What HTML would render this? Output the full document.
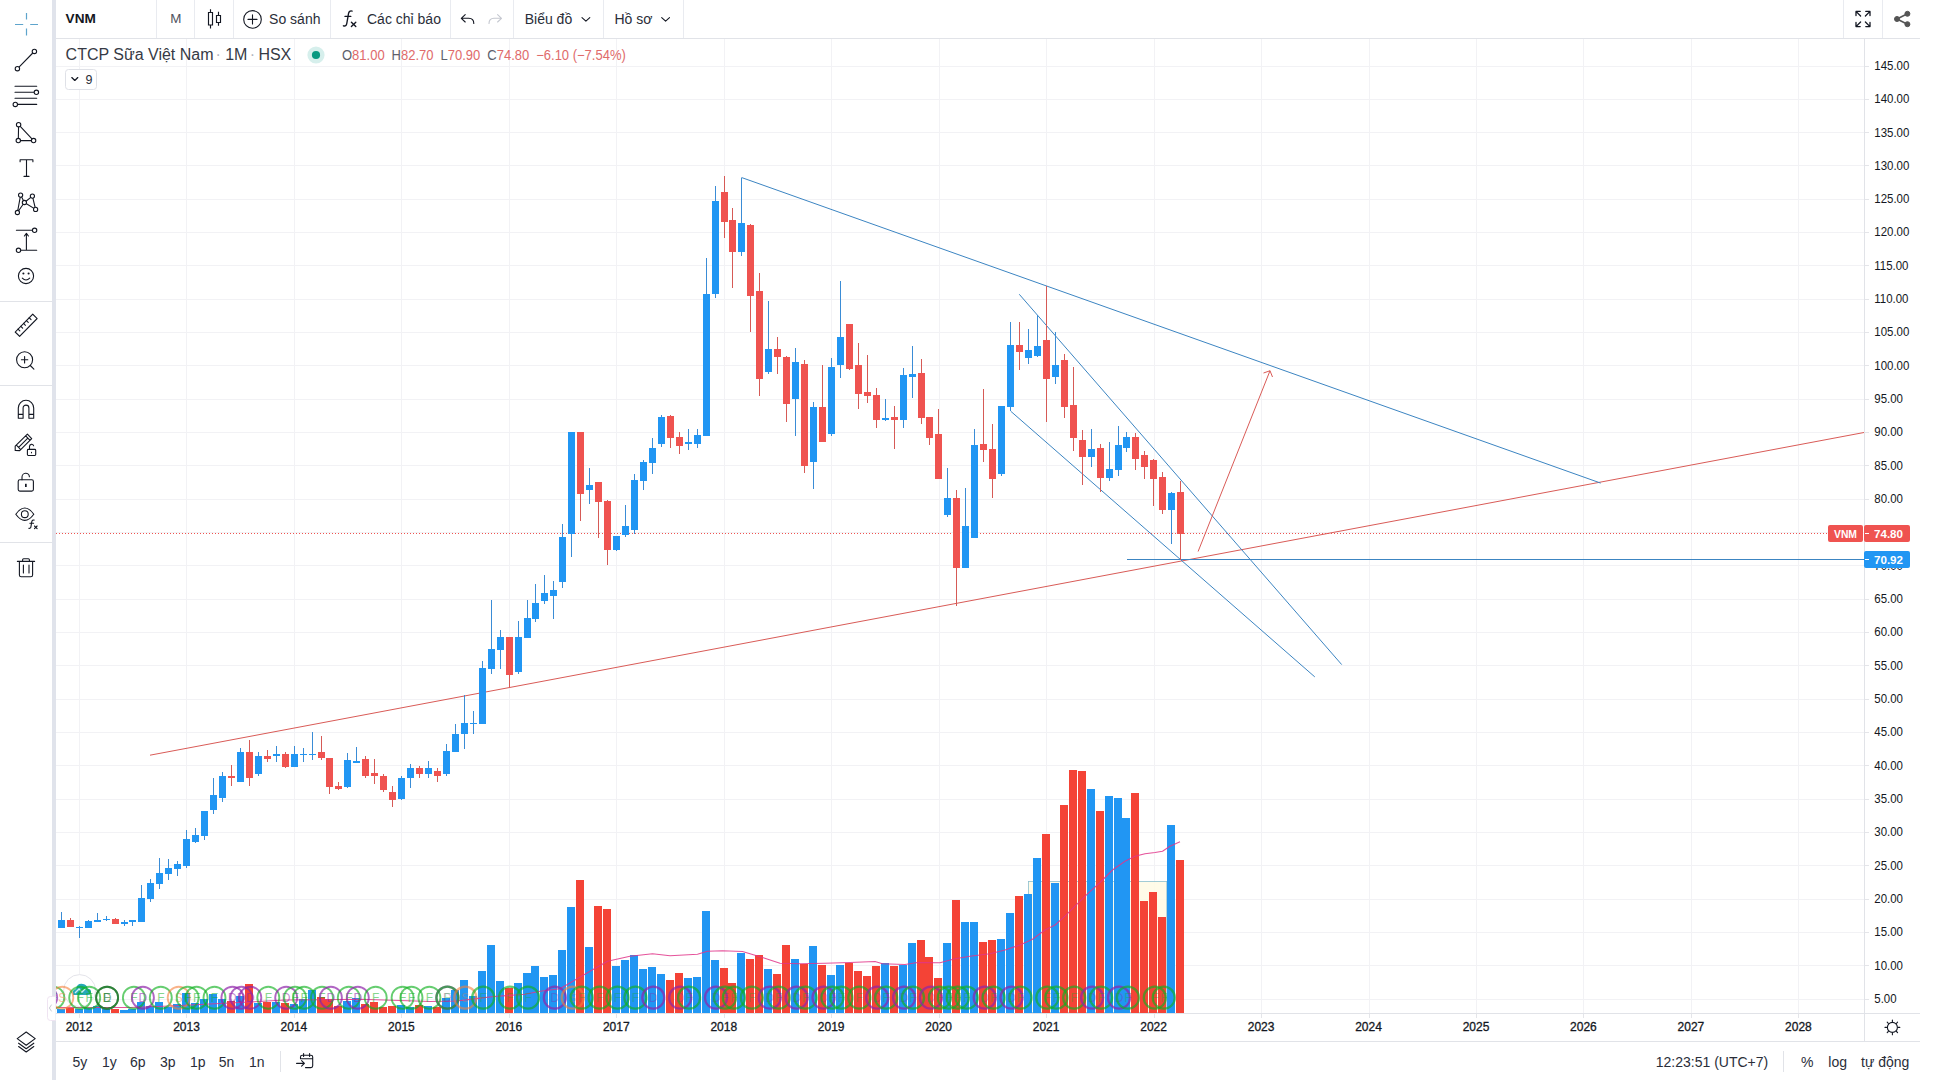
<!DOCTYPE html>
<html><head><meta charset="utf-8"><title>VNM</title>
<style>
html,body{margin:0;padding:0;background:#fff;}
body{width:1950px;height:1080px;position:relative;overflow:hidden;font-family:"Liberation Sans",sans-serif;color:#131722;}
.t{position:absolute;white-space:nowrap;line-height:1;}
svg{position:absolute;left:0;top:0;}
svg text{font-family:"Liberation Sans",sans-serif;}
</style></head><body>
<svg width="1950" height="1080" viewBox="0 0 1950 1080">
<rect x="52" y="0" width="4" height="1080" fill="#e0e3eb"/>
<rect x="56" y="38" width="1864" height="1" fill="#e1e3e8"/>
<rect x="56" y="1013" width="1864" height="1" fill="#e1e3e8"/>
<rect x="56" y="1041" width="1864" height="1" fill="#e1e3e8"/>
<rect x="1864" y="39" width="1" height="1002" fill="#e1e3e8"/>
<rect x="156" y="0" width="1" height="38" fill="#e9ebf0"/>
<rect x="194" y="0" width="1" height="38" fill="#e9ebf0"/>
<rect x="233" y="0" width="1" height="38" fill="#e9ebf0"/>
<rect x="330" y="0" width="1" height="38" fill="#e9ebf0"/>
<rect x="450" y="0" width="1" height="38" fill="#e9ebf0"/>
<rect x="513" y="0" width="1" height="38" fill="#e9ebf0"/>
<rect x="603" y="0" width="1" height="38" fill="#e9ebf0"/>
<rect x="683" y="0" width="1" height="38" fill="#e9ebf0"/>
<rect x="1843" y="0" width="1" height="38" fill="#e9ebf0"/>
<rect x="1882" y="0" width="1" height="38" fill="#e9ebf0"/>
<rect x="0" y="301" width="52" height="1" fill="#e1e3e8"/>
<rect x="0" y="385" width="52" height="1" fill="#e1e3e8"/>
<rect x="0" y="542" width="52" height="1" fill="#e1e3e8"/>
<rect x="280" y="1051" width="1" height="21" fill="#e1e3e8"/>
<rect x="1783" y="1051" width="1" height="21" fill="#e1e3e8"/>
<g shape-rendering="crispEdges">
<rect x="56" y="999" width="1808" height="1" fill="#f2f2f5"/>
<rect x="1865" y="999" width="4" height="1" fill="#e4e5e9"/>
<rect x="56" y="965" width="1808" height="1" fill="#f2f2f5"/>
<rect x="1865" y="965" width="4" height="1" fill="#e4e5e9"/>
<rect x="56" y="932" width="1808" height="1" fill="#f2f2f5"/>
<rect x="1865" y="932" width="4" height="1" fill="#e4e5e9"/>
<rect x="56" y="899" width="1808" height="1" fill="#f2f2f5"/>
<rect x="1865" y="899" width="4" height="1" fill="#e4e5e9"/>
<rect x="56" y="865" width="1808" height="1" fill="#f2f2f5"/>
<rect x="1865" y="865" width="4" height="1" fill="#e4e5e9"/>
<rect x="56" y="832" width="1808" height="1" fill="#f2f2f5"/>
<rect x="1865" y="832" width="4" height="1" fill="#e4e5e9"/>
<rect x="56" y="799" width="1808" height="1" fill="#f2f2f5"/>
<rect x="1865" y="799" width="4" height="1" fill="#e4e5e9"/>
<rect x="56" y="765" width="1808" height="1" fill="#f2f2f5"/>
<rect x="1865" y="765" width="4" height="1" fill="#e4e5e9"/>
<rect x="56" y="732" width="1808" height="1" fill="#f2f2f5"/>
<rect x="1865" y="732" width="4" height="1" fill="#e4e5e9"/>
<rect x="56" y="699" width="1808" height="1" fill="#f2f2f5"/>
<rect x="1865" y="699" width="4" height="1" fill="#e4e5e9"/>
<rect x="56" y="665" width="1808" height="1" fill="#f2f2f5"/>
<rect x="1865" y="665" width="4" height="1" fill="#e4e5e9"/>
<rect x="56" y="632" width="1808" height="1" fill="#f2f2f5"/>
<rect x="1865" y="632" width="4" height="1" fill="#e4e5e9"/>
<rect x="56" y="599" width="1808" height="1" fill="#f2f2f5"/>
<rect x="1865" y="599" width="4" height="1" fill="#e4e5e9"/>
<rect x="56" y="565" width="1808" height="1" fill="#f2f2f5"/>
<rect x="1865" y="565" width="4" height="1" fill="#e4e5e9"/>
<rect x="56" y="532" width="1808" height="1" fill="#f2f2f5"/>
<rect x="1865" y="532" width="4" height="1" fill="#e4e5e9"/>
<rect x="56" y="499" width="1808" height="1" fill="#f2f2f5"/>
<rect x="1865" y="499" width="4" height="1" fill="#e4e5e9"/>
<rect x="56" y="465" width="1808" height="1" fill="#f2f2f5"/>
<rect x="1865" y="465" width="4" height="1" fill="#e4e5e9"/>
<rect x="56" y="432" width="1808" height="1" fill="#f2f2f5"/>
<rect x="1865" y="432" width="4" height="1" fill="#e4e5e9"/>
<rect x="56" y="399" width="1808" height="1" fill="#f2f2f5"/>
<rect x="1865" y="399" width="4" height="1" fill="#e4e5e9"/>
<rect x="56" y="365" width="1808" height="1" fill="#f2f2f5"/>
<rect x="1865" y="365" width="4" height="1" fill="#e4e5e9"/>
<rect x="56" y="332" width="1808" height="1" fill="#f2f2f5"/>
<rect x="1865" y="332" width="4" height="1" fill="#e4e5e9"/>
<rect x="56" y="299" width="1808" height="1" fill="#f2f2f5"/>
<rect x="1865" y="299" width="4" height="1" fill="#e4e5e9"/>
<rect x="56" y="265" width="1808" height="1" fill="#f2f2f5"/>
<rect x="1865" y="265" width="4" height="1" fill="#e4e5e9"/>
<rect x="56" y="232" width="1808" height="1" fill="#f2f2f5"/>
<rect x="1865" y="232" width="4" height="1" fill="#e4e5e9"/>
<rect x="56" y="199" width="1808" height="1" fill="#f2f2f5"/>
<rect x="1865" y="199" width="4" height="1" fill="#e4e5e9"/>
<rect x="56" y="165" width="1808" height="1" fill="#f2f2f5"/>
<rect x="1865" y="165" width="4" height="1" fill="#e4e5e9"/>
<rect x="56" y="132" width="1808" height="1" fill="#f2f2f5"/>
<rect x="1865" y="132" width="4" height="1" fill="#e4e5e9"/>
<rect x="56" y="99" width="1808" height="1" fill="#f2f2f5"/>
<rect x="1865" y="99" width="4" height="1" fill="#e4e5e9"/>
<rect x="56" y="66" width="1808" height="1" fill="#f2f2f5"/>
<rect x="1865" y="66" width="4" height="1" fill="#e4e5e9"/>
<rect x="79" y="39" width="1" height="974" fill="#f2f2f5"/>
<rect x="79" y="1014" width="1" height="4" fill="#e4e5e9"/>
<rect x="186" y="39" width="1" height="974" fill="#f2f2f5"/>
<rect x="186" y="1014" width="1" height="4" fill="#e4e5e9"/>
<rect x="294" y="39" width="1" height="974" fill="#f2f2f5"/>
<rect x="294" y="1014" width="1" height="4" fill="#e4e5e9"/>
<rect x="401" y="39" width="1" height="974" fill="#f2f2f5"/>
<rect x="401" y="1014" width="1" height="4" fill="#e4e5e9"/>
<rect x="509" y="39" width="1" height="974" fill="#f2f2f5"/>
<rect x="509" y="1014" width="1" height="4" fill="#e4e5e9"/>
<rect x="616" y="39" width="1" height="974" fill="#f2f2f5"/>
<rect x="616" y="1014" width="1" height="4" fill="#e4e5e9"/>
<rect x="724" y="39" width="1" height="974" fill="#f2f2f5"/>
<rect x="724" y="1014" width="1" height="4" fill="#e4e5e9"/>
<rect x="831" y="39" width="1" height="974" fill="#f2f2f5"/>
<rect x="831" y="1014" width="1" height="4" fill="#e4e5e9"/>
<rect x="939" y="39" width="1" height="974" fill="#f2f2f5"/>
<rect x="939" y="1014" width="1" height="4" fill="#e4e5e9"/>
<rect x="1046" y="39" width="1" height="974" fill="#f2f2f5"/>
<rect x="1046" y="1014" width="1" height="4" fill="#e4e5e9"/>
<rect x="1154" y="39" width="1" height="974" fill="#f2f2f5"/>
<rect x="1154" y="1014" width="1" height="4" fill="#e4e5e9"/>
<rect x="1261" y="39" width="1" height="974" fill="#f2f2f5"/>
<rect x="1261" y="1014" width="1" height="4" fill="#e4e5e9"/>
<rect x="1369" y="39" width="1" height="974" fill="#f2f2f5"/>
<rect x="1369" y="1014" width="1" height="4" fill="#e4e5e9"/>
<rect x="1476" y="39" width="1" height="974" fill="#f2f2f5"/>
<rect x="1476" y="1014" width="1" height="4" fill="#e4e5e9"/>
<rect x="1583" y="39" width="1" height="974" fill="#f2f2f5"/>
<rect x="1583" y="1014" width="1" height="4" fill="#e4e5e9"/>
<rect x="1691" y="39" width="1" height="974" fill="#f2f2f5"/>
<rect x="1691" y="1014" width="1" height="4" fill="#e4e5e9"/>
<rect x="1798" y="39" width="1" height="974" fill="#f2f2f5"/>
<rect x="1798" y="1014" width="1" height="4" fill="#e4e5e9"/>
</g>
<circle cx="79.6" cy="990.6" r="16" fill="#fff" stroke="#e4e4ea" stroke-width="1"/>
<path d="M73 995 q-1.5 -5 3 -6 q1 -6 7 -5 q4 0.5 4.5 4.5 q4 0.5 3.5 4 q-0.3 2.5 -3 2.5 z" fill="#26a9b8"/>
<path d="M75 993 l4 -4 l3 3 l4 -4" fill="none" stroke="#cfeef2" stroke-width="1.3"/>
<rect x="1028.5" y="881.5" width="138.3" height="131" fill="#fffbe6" stroke="#7fb8c9" stroke-width="0.8" opacity="0.9"/>
<g shape-rendering="crispEdges">
<rect x="57" y="1009" width="8" height="4" fill="#2196f3"/>
<rect x="66" y="1008" width="8" height="5" fill="#f44336"/>
<rect x="75" y="1009" width="8" height="4" fill="#2196f3"/>
<rect x="84" y="1008" width="8" height="5" fill="#2196f3"/>
<rect x="93" y="1006" width="8" height="7" fill="#2196f3"/>
<rect x="102" y="1009" width="8" height="4" fill="#2196f3"/>
<rect x="111" y="1009" width="8" height="4" fill="#f44336"/>
<rect x="120" y="1010" width="8" height="3" fill="#2196f3"/>
<rect x="128" y="1009" width="8" height="4" fill="#2196f3"/>
<rect x="137" y="1002" width="8" height="11" fill="#2196f3"/>
<rect x="146" y="1006" width="8" height="7" fill="#2196f3"/>
<rect x="155" y="1002" width="8" height="11" fill="#2196f3"/>
<rect x="164" y="1007" width="8" height="6" fill="#2196f3"/>
<rect x="173" y="1004" width="8" height="9" fill="#2196f3"/>
<rect x="182" y="993" width="8" height="20" fill="#2196f3"/>
<rect x="191" y="1003" width="8" height="10" fill="#2196f3"/>
<rect x="200" y="999" width="8" height="14" fill="#2196f3"/>
<rect x="209" y="994" width="8" height="19" fill="#2196f3"/>
<rect x="218" y="999" width="8" height="14" fill="#2196f3"/>
<rect x="227" y="1001" width="8" height="12" fill="#f44336"/>
<rect x="236" y="996" width="8" height="17" fill="#2196f3"/>
<rect x="245" y="984" width="8" height="29" fill="#f44336"/>
<rect x="254" y="1003" width="8" height="10" fill="#2196f3"/>
<rect x="263" y="1002" width="8" height="11" fill="#f44336"/>
<rect x="272" y="1002" width="8" height="11" fill="#2196f3"/>
<rect x="281" y="1003" width="8" height="10" fill="#f44336"/>
<rect x="290" y="1004" width="8" height="9" fill="#2196f3"/>
<rect x="299" y="999" width="8" height="14" fill="#2196f3"/>
<rect x="308" y="990" width="8" height="23" fill="#2196f3"/>
<rect x="317" y="997" width="8" height="16" fill="#f44336"/>
<rect x="325" y="999" width="8" height="14" fill="#f44336"/>
<rect x="334" y="1006" width="8" height="7" fill="#f44336"/>
<rect x="343" y="1001" width="8" height="12" fill="#2196f3"/>
<rect x="352" y="998" width="8" height="15" fill="#2196f3"/>
<rect x="361" y="1004" width="8" height="9" fill="#f44336"/>
<rect x="370" y="1002" width="8" height="11" fill="#f44336"/>
<rect x="379" y="1007" width="8" height="6" fill="#f44336"/>
<rect x="388" y="1006" width="8" height="7" fill="#f44336"/>
<rect x="397" y="1005" width="8" height="8" fill="#2196f3"/>
<rect x="406" y="1007" width="8" height="6" fill="#2196f3"/>
<rect x="415" y="1005" width="8" height="8" fill="#f44336"/>
<rect x="424" y="1006" width="8" height="7" fill="#2196f3"/>
<rect x="433" y="1007" width="8" height="6" fill="#f44336"/>
<rect x="442" y="998" width="8" height="15" fill="#2196f3"/>
<rect x="451" y="990" width="8" height="23" fill="#2196f3"/>
<rect x="460" y="980" width="8" height="33" fill="#2196f3"/>
<rect x="469" y="996" width="8" height="17" fill="#2196f3"/>
<rect x="478" y="971" width="8" height="42" fill="#2196f3"/>
<rect x="487" y="945" width="8" height="68" fill="#2196f3"/>
<rect x="496" y="981" width="8" height="32" fill="#2196f3"/>
<rect x="505" y="988" width="8" height="25" fill="#f44336"/>
<rect x="514" y="983" width="8" height="30" fill="#2196f3"/>
<rect x="523" y="973" width="8" height="40" fill="#2196f3"/>
<rect x="531" y="966" width="8" height="47" fill="#2196f3"/>
<rect x="540" y="977" width="8" height="36" fill="#2196f3"/>
<rect x="549" y="975" width="8" height="38" fill="#2196f3"/>
<rect x="558" y="950" width="8" height="63" fill="#2196f3"/>
<rect x="567" y="907" width="8" height="106" fill="#2196f3"/>
<rect x="576" y="880" width="8" height="133" fill="#f44336"/>
<rect x="585" y="947" width="8" height="66" fill="#2196f3"/>
<rect x="594" y="906" width="8" height="107" fill="#f44336"/>
<rect x="603" y="909" width="8" height="104" fill="#f44336"/>
<rect x="612" y="966" width="8" height="47" fill="#2196f3"/>
<rect x="621" y="960" width="8" height="53" fill="#2196f3"/>
<rect x="630" y="955" width="8" height="58" fill="#2196f3"/>
<rect x="639" y="969" width="8" height="44" fill="#2196f3"/>
<rect x="648" y="967" width="8" height="46" fill="#2196f3"/>
<rect x="657" y="974" width="8" height="39" fill="#2196f3"/>
<rect x="666" y="980" width="8" height="33" fill="#f44336"/>
<rect x="675" y="973" width="8" height="40" fill="#f44336"/>
<rect x="684" y="978" width="8" height="35" fill="#2196f3"/>
<rect x="693" y="977" width="8" height="36" fill="#2196f3"/>
<rect x="702" y="911" width="8" height="102" fill="#2196f3"/>
<rect x="711" y="960" width="8" height="53" fill="#2196f3"/>
<rect x="720" y="968" width="8" height="45" fill="#f44336"/>
<rect x="728" y="983" width="8" height="30" fill="#f44336"/>
<rect x="737" y="953" width="8" height="60" fill="#2196f3"/>
<rect x="746" y="959" width="8" height="54" fill="#f44336"/>
<rect x="755" y="955" width="8" height="58" fill="#f44336"/>
<rect x="764" y="969" width="8" height="44" fill="#2196f3"/>
<rect x="773" y="974" width="8" height="39" fill="#f44336"/>
<rect x="782" y="945" width="8" height="68" fill="#f44336"/>
<rect x="791" y="959" width="8" height="54" fill="#2196f3"/>
<rect x="800" y="964" width="8" height="49" fill="#f44336"/>
<rect x="809" y="946" width="8" height="67" fill="#2196f3"/>
<rect x="818" y="965" width="8" height="48" fill="#f44336"/>
<rect x="827" y="975" width="8" height="38" fill="#2196f3"/>
<rect x="836" y="965" width="8" height="48" fill="#2196f3"/>
<rect x="845" y="963" width="8" height="50" fill="#f44336"/>
<rect x="854" y="971" width="8" height="42" fill="#f44336"/>
<rect x="863" y="976" width="8" height="37" fill="#f44336"/>
<rect x="872" y="966" width="8" height="47" fill="#f44336"/>
<rect x="881" y="963" width="8" height="50" fill="#2196f3"/>
<rect x="890" y="966" width="8" height="47" fill="#f44336"/>
<rect x="899" y="965" width="8" height="48" fill="#2196f3"/>
<rect x="908" y="943" width="8" height="70" fill="#2196f3"/>
<rect x="917" y="940" width="8" height="73" fill="#f44336"/>
<rect x="925" y="957" width="8" height="56" fill="#f44336"/>
<rect x="934" y="978" width="8" height="35" fill="#f44336"/>
<rect x="943" y="943" width="8" height="70" fill="#2196f3"/>
<rect x="952" y="900" width="8" height="113" fill="#f44336"/>
<rect x="961" y="922" width="8" height="91" fill="#2196f3"/>
<rect x="970" y="922" width="8" height="91" fill="#2196f3"/>
<rect x="979" y="942" width="8" height="71" fill="#f44336"/>
<rect x="988" y="940" width="8" height="73" fill="#f44336"/>
<rect x="997" y="939" width="8" height="74" fill="#2196f3"/>
<rect x="1006" y="913" width="8" height="100" fill="#2196f3"/>
<rect x="1015" y="896" width="8" height="117" fill="#f44336"/>
<rect x="1024" y="894" width="8" height="119" fill="#2196f3"/>
<rect x="1033" y="858" width="8" height="155" fill="#2196f3"/>
<rect x="1042" y="834" width="8" height="179" fill="#f44336"/>
<rect x="1051" y="883" width="8" height="130" fill="#2196f3"/>
<rect x="1060" y="805" width="8" height="208" fill="#f44336"/>
<rect x="1069" y="770" width="8" height="243" fill="#f44336"/>
<rect x="1078" y="771" width="8" height="242" fill="#f44336"/>
<rect x="1087" y="789" width="8" height="224" fill="#2196f3"/>
<rect x="1096" y="811" width="8" height="202" fill="#f44336"/>
<rect x="1105" y="796" width="8" height="217" fill="#2196f3"/>
<rect x="1114" y="798" width="8" height="215" fill="#2196f3"/>
<rect x="1122" y="818" width="8" height="195" fill="#2196f3"/>
<rect x="1131" y="793" width="8" height="220" fill="#f44336"/>
<rect x="1140" y="901" width="8" height="112" fill="#f44336"/>
<rect x="1149" y="892" width="8" height="121" fill="#f44336"/>
<rect x="1158" y="917" width="8" height="96" fill="#f44336"/>
<rect x="1167" y="825" width="8" height="188" fill="#2196f3"/>
<rect x="1176" y="860" width="8" height="153" fill="#f44336"/>
</g>
<polyline points="56.0,1007.5 130.0,1007.5 170.0,1006.0 200.0,1004.5 240.0,1002.5 285.0,1000.0 320.0,999.8 360.0,999.3 400.0,1000.5 430.0,1001.5 457.0,1001.0 476.0,998.6 494.0,996.5 525.0,994.3 540.0,991.2 560.0,988.8 575.0,980.0 590.0,971.2 607.5,961.2 630.0,956.2 652.5,953.8 670.0,955.8 697.5,954.2 707.5,951.2 722.5,950.8 742.5,951.5 762.5,957.5 780.0,963.2 800.0,963.8 825.0,963.2 850.0,962.5 875.0,961.5 882.5,963.8 905.0,964.5 917.5,962.5 940.0,962.8 955.0,958.8 970.0,956.2 990.0,953.8 1005.0,950.0 1020.0,945.0 1032.5,939.2 1045.0,930.0 1055.0,925.0 1065.0,916.2 1075.0,906.2 1087.5,893.8 1100.0,882.5 1112.5,870.0 1125.0,861.2 1135.0,856.2 1145.0,853.8 1155.0,852.5 1162.5,851.2 1170.0,846.2 1180.0,841.8" fill="none" stroke="#e0358a" stroke-width="1.1" stroke-linejoin="round" opacity="0.85"/>
<line x1="150" y1="755.2" x2="1864" y2="432.5" stroke="#d95b57" stroke-width="1.0" />
<line x1="741.5" y1="177.5" x2="1600.7" y2="483.1" stroke="#3c85c2" stroke-width="1.0" />
<line x1="1019.25" y1="294.25" x2="1341.7" y2="664.6" stroke="#3c85c2" stroke-width="1.0" />
<line x1="1010.75" y1="411.25" x2="1314.8" y2="676.9" stroke="#3c85c2" stroke-width="1.0" />
<rect x="1127" y="559" width="737" height="1" fill="#3c85c2" shape-rendering="crispEdges"/>
<line x1="1198.1" y1="551.5" x2="1270" y2="370.75" stroke="#d95b57" stroke-width="1.0" />
<line x1="1270" y1="370.75" x2="1263.5" y2="373" stroke="#d95b57" stroke-width="1.0" />
<line x1="1270" y1="370.75" x2="1272.5" y2="377" stroke="#d95b57" stroke-width="1.0" />
<line x1="56" y1="533.5" x2="1828" y2="533.5" stroke="#ef5350" stroke-width="1" stroke-dasharray="1 2" shape-rendering="crispEdges"/>
<g shape-rendering="crispEdges">
<rect x="61" y="912" width="1" height="16" fill="#3a8cd6"/>
<rect x="58" y="920" width="7" height="8" fill="#2196f3"/>
<rect x="70" y="918" width="1" height="9" fill="#d65a56"/>
<rect x="67" y="920" width="7" height="7" fill="#ef5350"/>
<rect x="79" y="926" width="1" height="12" fill="#3a8cd6"/>
<rect x="76" y="927" width="7" height="1" fill="#2196f3"/>
<rect x="88" y="920" width="1" height="8" fill="#3a8cd6"/>
<rect x="85" y="921" width="7" height="7" fill="#2196f3"/>
<rect x="97" y="913" width="1" height="9" fill="#3a8cd6"/>
<rect x="94" y="920" width="7" height="2" fill="#2196f3"/>
<rect x="106" y="916" width="1" height="5" fill="#3a8cd6"/>
<rect x="103" y="919" width="7" height="1" fill="#2196f3"/>
<rect x="115" y="918" width="1" height="6" fill="#d65a56"/>
<rect x="112" y="919" width="7" height="5" fill="#ef5350"/>
<rect x="124" y="920" width="1" height="6" fill="#3a8cd6"/>
<rect x="121" y="922" width="7" height="2" fill="#2196f3"/>
<rect x="132" y="920" width="1" height="6" fill="#3a8cd6"/>
<rect x="129" y="920" width="7" height="2" fill="#2196f3"/>
<rect x="141" y="885" width="1" height="37" fill="#3a8cd6"/>
<rect x="138" y="898" width="7" height="24" fill="#2196f3"/>
<rect x="150" y="879" width="1" height="23" fill="#3a8cd6"/>
<rect x="147" y="883" width="7" height="16" fill="#2196f3"/>
<rect x="159" y="858" width="1" height="31" fill="#3a8cd6"/>
<rect x="156" y="873" width="7" height="11" fill="#2196f3"/>
<rect x="168" y="859" width="1" height="21" fill="#3a8cd6"/>
<rect x="165" y="868" width="7" height="6" fill="#2196f3"/>
<rect x="177" y="861" width="1" height="15" fill="#3a8cd6"/>
<rect x="174" y="864" width="7" height="5" fill="#2196f3"/>
<rect x="186" y="830" width="1" height="38" fill="#3a8cd6"/>
<rect x="183" y="839" width="7" height="27" fill="#2196f3"/>
<rect x="195" y="828" width="1" height="15" fill="#3a8cd6"/>
<rect x="192" y="835" width="7" height="7" fill="#2196f3"/>
<rect x="204" y="811" width="1" height="29" fill="#3a8cd6"/>
<rect x="201" y="811" width="7" height="25" fill="#2196f3"/>
<rect x="213" y="778" width="1" height="36" fill="#3a8cd6"/>
<rect x="210" y="795" width="7" height="15" fill="#2196f3"/>
<rect x="222" y="772" width="1" height="30" fill="#3a8cd6"/>
<rect x="219" y="776" width="7" height="22" fill="#2196f3"/>
<rect x="231" y="765" width="1" height="21" fill="#d65a56"/>
<rect x="228" y="776" width="7" height="2" fill="#ef5350"/>
<rect x="240" y="748" width="1" height="34" fill="#3a8cd6"/>
<rect x="237" y="752" width="7" height="30" fill="#2196f3"/>
<rect x="249" y="740" width="1" height="46" fill="#d65a56"/>
<rect x="246" y="752" width="7" height="26" fill="#ef5350"/>
<rect x="258" y="752" width="1" height="24" fill="#3a8cd6"/>
<rect x="255" y="756" width="7" height="18" fill="#2196f3"/>
<rect x="267" y="750" width="1" height="12" fill="#d65a56"/>
<rect x="264" y="756" width="7" height="3" fill="#ef5350"/>
<rect x="276" y="746" width="1" height="16" fill="#3a8cd6"/>
<rect x="273" y="754" width="7" height="2" fill="#2196f3"/>
<rect x="285" y="752" width="1" height="16" fill="#d65a56"/>
<rect x="282" y="754" width="7" height="13" fill="#ef5350"/>
<rect x="294" y="746" width="1" height="21" fill="#3a8cd6"/>
<rect x="291" y="754" width="7" height="13" fill="#2196f3"/>
<rect x="303" y="748" width="1" height="14" fill="#3a8cd6"/>
<rect x="300" y="754" width="7" height="1" fill="#2196f3"/>
<rect x="312" y="732" width="1" height="28" fill="#3a8cd6"/>
<rect x="309" y="754" width="7" height="1" fill="#2196f3"/>
<rect x="321" y="736" width="1" height="24" fill="#d65a56"/>
<rect x="318" y="752" width="7" height="6" fill="#ef5350"/>
<rect x="329" y="758" width="1" height="36" fill="#d65a56"/>
<rect x="326" y="758" width="7" height="29" fill="#ef5350"/>
<rect x="338" y="782" width="1" height="8" fill="#d65a56"/>
<rect x="335" y="786" width="7" height="3" fill="#ef5350"/>
<rect x="347" y="753" width="1" height="35" fill="#3a8cd6"/>
<rect x="344" y="760" width="7" height="27" fill="#2196f3"/>
<rect x="356" y="747" width="1" height="16" fill="#3a8cd6"/>
<rect x="353" y="761" width="7" height="2" fill="#2196f3"/>
<rect x="365" y="756" width="1" height="22" fill="#d65a56"/>
<rect x="362" y="759" width="7" height="17" fill="#ef5350"/>
<rect x="374" y="759" width="1" height="25" fill="#d65a56"/>
<rect x="371" y="773" width="7" height="3" fill="#ef5350"/>
<rect x="383" y="774" width="1" height="18" fill="#d65a56"/>
<rect x="380" y="776" width="7" height="14" fill="#ef5350"/>
<rect x="392" y="786" width="1" height="21" fill="#d65a56"/>
<rect x="389" y="792" width="7" height="8" fill="#ef5350"/>
<rect x="401" y="776" width="1" height="24" fill="#3a8cd6"/>
<rect x="398" y="778" width="7" height="21" fill="#2196f3"/>
<rect x="410" y="764" width="1" height="24" fill="#3a8cd6"/>
<rect x="407" y="768" width="7" height="10" fill="#2196f3"/>
<rect x="419" y="766" width="1" height="12" fill="#d65a56"/>
<rect x="416" y="768" width="7" height="6" fill="#ef5350"/>
<rect x="428" y="761" width="1" height="17" fill="#3a8cd6"/>
<rect x="425" y="768" width="7" height="6" fill="#2196f3"/>
<rect x="437" y="768" width="1" height="14" fill="#d65a56"/>
<rect x="434" y="771" width="7" height="5" fill="#ef5350"/>
<rect x="446" y="744" width="1" height="32" fill="#3a8cd6"/>
<rect x="443" y="751" width="7" height="23" fill="#2196f3"/>
<rect x="455" y="724" width="1" height="28" fill="#3a8cd6"/>
<rect x="452" y="734" width="7" height="18" fill="#2196f3"/>
<rect x="464" y="695" width="1" height="54" fill="#3a8cd6"/>
<rect x="461" y="723" width="7" height="11" fill="#2196f3"/>
<rect x="473" y="711" width="1" height="23" fill="#3a8cd6"/>
<rect x="470" y="723" width="7" height="1" fill="#2196f3"/>
<rect x="482" y="661" width="1" height="63" fill="#3a8cd6"/>
<rect x="479" y="668" width="7" height="56" fill="#2196f3"/>
<rect x="491" y="600" width="1" height="74" fill="#3a8cd6"/>
<rect x="488" y="649" width="7" height="20" fill="#2196f3"/>
<rect x="500" y="630" width="1" height="39" fill="#3a8cd6"/>
<rect x="497" y="637" width="7" height="13" fill="#2196f3"/>
<rect x="509" y="637" width="1" height="50" fill="#d65a56"/>
<rect x="506" y="637" width="7" height="38" fill="#ef5350"/>
<rect x="518" y="621" width="1" height="53" fill="#3a8cd6"/>
<rect x="515" y="637" width="7" height="35" fill="#2196f3"/>
<rect x="527" y="600" width="1" height="38" fill="#3a8cd6"/>
<rect x="524" y="618" width="7" height="20" fill="#2196f3"/>
<rect x="535" y="584" width="1" height="38" fill="#3a8cd6"/>
<rect x="532" y="603" width="7" height="16" fill="#2196f3"/>
<rect x="544" y="575" width="1" height="29" fill="#3a8cd6"/>
<rect x="541" y="593" width="7" height="8" fill="#2196f3"/>
<rect x="553" y="581" width="1" height="38" fill="#3a8cd6"/>
<rect x="550" y="590" width="7" height="6" fill="#2196f3"/>
<rect x="562" y="524" width="1" height="64" fill="#3a8cd6"/>
<rect x="559" y="537" width="7" height="45" fill="#2196f3"/>
<rect x="571" y="432" width="1" height="125" fill="#3a8cd6"/>
<rect x="568" y="432" width="7" height="102" fill="#2196f3"/>
<rect x="580" y="432" width="1" height="89" fill="#d65a56"/>
<rect x="577" y="432" width="7" height="62" fill="#ef5350"/>
<rect x="589" y="468" width="1" height="36" fill="#3a8cd6"/>
<rect x="586" y="485" width="7" height="5" fill="#2196f3"/>
<rect x="598" y="482" width="1" height="56" fill="#d65a56"/>
<rect x="595" y="482" width="7" height="20" fill="#ef5350"/>
<rect x="607" y="500" width="1" height="65" fill="#d65a56"/>
<rect x="604" y="501" width="7" height="49" fill="#ef5350"/>
<rect x="616" y="536" width="1" height="15" fill="#3a8cd6"/>
<rect x="613" y="536" width="7" height="14" fill="#2196f3"/>
<rect x="625" y="505" width="1" height="32" fill="#3a8cd6"/>
<rect x="622" y="526" width="7" height="9" fill="#2196f3"/>
<rect x="634" y="474" width="1" height="60" fill="#3a8cd6"/>
<rect x="631" y="480" width="7" height="50" fill="#2196f3"/>
<rect x="643" y="460" width="1" height="30" fill="#3a8cd6"/>
<rect x="640" y="462" width="7" height="19" fill="#2196f3"/>
<rect x="652" y="438" width="1" height="36" fill="#3a8cd6"/>
<rect x="649" y="448" width="7" height="15" fill="#2196f3"/>
<rect x="661" y="415" width="1" height="32" fill="#3a8cd6"/>
<rect x="658" y="417" width="7" height="27" fill="#2196f3"/>
<rect x="670" y="415" width="1" height="33" fill="#d65a56"/>
<rect x="667" y="416" width="7" height="22" fill="#ef5350"/>
<rect x="679" y="432" width="1" height="22" fill="#d65a56"/>
<rect x="676" y="437" width="7" height="9" fill="#ef5350"/>
<rect x="688" y="429" width="1" height="21" fill="#3a8cd6"/>
<rect x="685" y="442" width="7" height="2" fill="#2196f3"/>
<rect x="697" y="429" width="1" height="19" fill="#3a8cd6"/>
<rect x="694" y="435" width="7" height="9" fill="#2196f3"/>
<rect x="706" y="258" width="1" height="178" fill="#3a8cd6"/>
<rect x="703" y="294" width="7" height="142" fill="#2196f3"/>
<rect x="715" y="186" width="1" height="112" fill="#3a8cd6"/>
<rect x="712" y="201" width="7" height="93" fill="#2196f3"/>
<rect x="724" y="176" width="1" height="62" fill="#d65a56"/>
<rect x="721" y="192" width="7" height="30" fill="#ef5350"/>
<rect x="732" y="208" width="1" height="80" fill="#d65a56"/>
<rect x="729" y="220" width="7" height="32" fill="#ef5350"/>
<rect x="741" y="178" width="1" height="78" fill="#3a8cd6"/>
<rect x="738" y="223" width="7" height="29" fill="#2196f3"/>
<rect x="750" y="224" width="1" height="108" fill="#d65a56"/>
<rect x="747" y="225" width="7" height="71" fill="#ef5350"/>
<rect x="759" y="273" width="1" height="123" fill="#d65a56"/>
<rect x="756" y="291" width="7" height="88" fill="#ef5350"/>
<rect x="768" y="301" width="1" height="73" fill="#3a8cd6"/>
<rect x="765" y="349" width="7" height="23" fill="#2196f3"/>
<rect x="777" y="337" width="1" height="37" fill="#d65a56"/>
<rect x="774" y="349" width="7" height="8" fill="#ef5350"/>
<rect x="786" y="356" width="1" height="66" fill="#d65a56"/>
<rect x="783" y="357" width="7" height="47" fill="#ef5350"/>
<rect x="795" y="348" width="1" height="88" fill="#3a8cd6"/>
<rect x="792" y="362" width="7" height="37" fill="#2196f3"/>
<rect x="804" y="360" width="1" height="113" fill="#d65a56"/>
<rect x="801" y="364" width="7" height="102" fill="#ef5350"/>
<rect x="813" y="402" width="1" height="87" fill="#3a8cd6"/>
<rect x="810" y="407" width="7" height="55" fill="#2196f3"/>
<rect x="822" y="365" width="1" height="77" fill="#d65a56"/>
<rect x="819" y="407" width="7" height="35" fill="#ef5350"/>
<rect x="831" y="358" width="1" height="78" fill="#3a8cd6"/>
<rect x="828" y="367" width="7" height="67" fill="#2196f3"/>
<rect x="840" y="281" width="1" height="97" fill="#3a8cd6"/>
<rect x="837" y="337" width="7" height="28" fill="#2196f3"/>
<rect x="849" y="324" width="1" height="46" fill="#d65a56"/>
<rect x="846" y="324" width="7" height="45" fill="#ef5350"/>
<rect x="858" y="343" width="1" height="66" fill="#d65a56"/>
<rect x="855" y="365" width="7" height="29" fill="#ef5350"/>
<rect x="867" y="355" width="1" height="48" fill="#d65a56"/>
<rect x="864" y="392" width="7" height="4" fill="#ef5350"/>
<rect x="876" y="388" width="1" height="40" fill="#d65a56"/>
<rect x="873" y="395" width="7" height="25" fill="#ef5350"/>
<rect x="885" y="399" width="1" height="22" fill="#3a8cd6"/>
<rect x="882" y="418" width="7" height="2" fill="#2196f3"/>
<rect x="894" y="406" width="1" height="43" fill="#d65a56"/>
<rect x="891" y="417" width="7" height="3" fill="#ef5350"/>
<rect x="903" y="368" width="1" height="60" fill="#3a8cd6"/>
<rect x="900" y="375" width="7" height="45" fill="#2196f3"/>
<rect x="912" y="346" width="1" height="52" fill="#3a8cd6"/>
<rect x="909" y="374" width="7" height="3" fill="#2196f3"/>
<rect x="921" y="359" width="1" height="65" fill="#d65a56"/>
<rect x="918" y="373" width="7" height="45" fill="#ef5350"/>
<rect x="929" y="417" width="1" height="28" fill="#d65a56"/>
<rect x="926" y="417" width="7" height="21" fill="#ef5350"/>
<rect x="938" y="409" width="1" height="70" fill="#d65a56"/>
<rect x="935" y="434" width="7" height="45" fill="#ef5350"/>
<rect x="947" y="468" width="1" height="49" fill="#3a8cd6"/>
<rect x="944" y="498" width="7" height="17" fill="#2196f3"/>
<rect x="956" y="490" width="1" height="116" fill="#d65a56"/>
<rect x="953" y="498" width="7" height="70" fill="#ef5350"/>
<rect x="965" y="488" width="1" height="80" fill="#3a8cd6"/>
<rect x="962" y="526" width="7" height="42" fill="#2196f3"/>
<rect x="974" y="429" width="1" height="109" fill="#3a8cd6"/>
<rect x="971" y="445" width="7" height="93" fill="#2196f3"/>
<rect x="983" y="389" width="1" height="73" fill="#d65a56"/>
<rect x="980" y="444" width="7" height="6" fill="#ef5350"/>
<rect x="992" y="424" width="1" height="74" fill="#d65a56"/>
<rect x="989" y="449" width="7" height="30" fill="#ef5350"/>
<rect x="1001" y="406" width="1" height="70" fill="#3a8cd6"/>
<rect x="998" y="406" width="7" height="68" fill="#2196f3"/>
<rect x="1010" y="322" width="1" height="89" fill="#3a8cd6"/>
<rect x="1007" y="345" width="7" height="62" fill="#2196f3"/>
<rect x="1019" y="322" width="1" height="48" fill="#d65a56"/>
<rect x="1016" y="345" width="7" height="7" fill="#ef5350"/>
<rect x="1028" y="329" width="1" height="35" fill="#3a8cd6"/>
<rect x="1025" y="350" width="7" height="8" fill="#2196f3"/>
<rect x="1037" y="315" width="1" height="42" fill="#3a8cd6"/>
<rect x="1034" y="346" width="7" height="10" fill="#2196f3"/>
<rect x="1046" y="286" width="1" height="136" fill="#d65a56"/>
<rect x="1043" y="340" width="7" height="39" fill="#ef5350"/>
<rect x="1055" y="332" width="1" height="52" fill="#3a8cd6"/>
<rect x="1052" y="365" width="7" height="12" fill="#2196f3"/>
<rect x="1064" y="354" width="1" height="64" fill="#d65a56"/>
<rect x="1061" y="360" width="7" height="47" fill="#ef5350"/>
<rect x="1073" y="367" width="1" height="84" fill="#d65a56"/>
<rect x="1070" y="405" width="7" height="33" fill="#ef5350"/>
<rect x="1082" y="430" width="1" height="55" fill="#d65a56"/>
<rect x="1079" y="440" width="7" height="17" fill="#ef5350"/>
<rect x="1091" y="429" width="1" height="38" fill="#3a8cd6"/>
<rect x="1088" y="449" width="7" height="8" fill="#2196f3"/>
<rect x="1100" y="444" width="1" height="48" fill="#d65a56"/>
<rect x="1097" y="448" width="7" height="30" fill="#ef5350"/>
<rect x="1109" y="442" width="1" height="39" fill="#3a8cd6"/>
<rect x="1106" y="469" width="7" height="9" fill="#2196f3"/>
<rect x="1118" y="426" width="1" height="50" fill="#3a8cd6"/>
<rect x="1115" y="445" width="7" height="25" fill="#2196f3"/>
<rect x="1126" y="432" width="1" height="20" fill="#3a8cd6"/>
<rect x="1123" y="437" width="7" height="11" fill="#2196f3"/>
<rect x="1135" y="433" width="1" height="37" fill="#d65a56"/>
<rect x="1132" y="437" width="7" height="22" fill="#ef5350"/>
<rect x="1144" y="451" width="1" height="28" fill="#d65a56"/>
<rect x="1141" y="455" width="7" height="12" fill="#ef5350"/>
<rect x="1153" y="459" width="1" height="47" fill="#d65a56"/>
<rect x="1150" y="460" width="7" height="19" fill="#ef5350"/>
<rect x="1162" y="472" width="1" height="42" fill="#d65a56"/>
<rect x="1159" y="477" width="7" height="33" fill="#ef5350"/>
<rect x="1171" y="492" width="1" height="52" fill="#3a8cd6"/>
<rect x="1168" y="493" width="7" height="17" fill="#2196f3"/>
<rect x="1180" y="481" width="1" height="79" fill="#d65a56"/>
<rect x="1177" y="492" width="7" height="42" fill="#ef5350"/>
</g>
<g font-size="12" text-anchor="middle">
<clipPath id="cp"><rect x="56" y="39" width="1808" height="974"/></clipPath>
<g clip-path="url(#cp)">
<circle cx="46.2" cy="997.7" r="11" fill="none" stroke="#8e24aa" stroke-width="1.9" opacity="0.7"/>
<text x="46.2" y="1001.8" fill="#8e24aa" opacity="0.56">D</text>
<circle cx="53.3" cy="997.7" r="11" fill="none" stroke="#10b020" stroke-width="1.9" opacity="0.64"/>
<text x="53.3" y="1001.8" fill="#10b020" opacity="0.51">F</text>
<circle cx="62.3" cy="997.7" r="11" fill="none" stroke="#f5803a" stroke-width="1.9" opacity="0.6"/>
<text x="62.3" y="1001.8" fill="#f5803a" opacity="0.48">S</text>
<circle cx="80.2" cy="997.7" r="11" fill="none" stroke="#10b020" stroke-width="1.9" opacity="0.64"/>
<text x="80.2" y="1001.8" fill="#10b020" opacity="0.51">F</text>
<circle cx="89.2" cy="997.7" r="11" fill="none" stroke="#10b020" stroke-width="1.9" opacity="0.64"/>
<text x="89.2" y="1001.8" fill="#10b020" opacity="0.51">F</text>
<circle cx="107.1" cy="997.7" r="11" fill="none" stroke="#1f7a2c" stroke-width="1.9" opacity="0.75"/>
<text x="107.1" y="1001.8" fill="#1f7a2c" opacity="0.60">E</text>
<circle cx="107.1" cy="997.7" r="11" fill="none" stroke="#1f7a2c" stroke-width="1.9" opacity="0.75"/>
<text x="107.1" y="1001.8" fill="#1f7a2c" opacity="0.60">D</text>
<circle cx="133.9" cy="997.7" r="11" fill="none" stroke="#10b020" stroke-width="1.9" opacity="0.64"/>
<text x="133.9" y="1001.8" fill="#10b020" opacity="0.51">F</text>
<circle cx="142.9" cy="997.7" r="11" fill="none" stroke="#8e24aa" stroke-width="1.9" opacity="0.7"/>
<text x="142.9" y="1001.8" fill="#8e24aa" opacity="0.56">D</text>
<circle cx="160.8" cy="997.7" r="11" fill="none" stroke="#10b020" stroke-width="1.9" opacity="0.64"/>
<text x="160.8" y="1001.8" fill="#10b020" opacity="0.51">F</text>
<circle cx="178.7" cy="997.7" r="11" fill="none" stroke="#f5803a" stroke-width="1.9" opacity="0.6"/>
<text x="178.7" y="1001.8" fill="#f5803a" opacity="0.48">S</text>
<circle cx="187.7" cy="997.7" r="11" fill="none" stroke="#10b020" stroke-width="1.9" opacity="0.64"/>
<text x="187.7" y="1001.8" fill="#10b020" opacity="0.51">F</text>
<circle cx="196.6" cy="997.7" r="11" fill="none" stroke="#10b020" stroke-width="1.9" opacity="0.64"/>
<text x="196.6" y="1001.8" fill="#10b020" opacity="0.51">F</text>
<circle cx="214.5" cy="997.7" r="11" fill="none" stroke="#10b020" stroke-width="1.9" opacity="0.64"/>
<text x="214.5" y="1001.8" fill="#10b020" opacity="0.51">F</text>
<circle cx="232.4" cy="997.7" r="11" fill="none" stroke="#8e24aa" stroke-width="1.9" opacity="0.7"/>
<text x="232.4" y="1001.8" fill="#8e24aa" opacity="0.56">D</text>
<circle cx="241.4" cy="997.7" r="11" fill="none" stroke="#8e24aa" stroke-width="1.9" opacity="0.7"/>
<text x="241.4" y="1001.8" fill="#8e24aa" opacity="0.56">D</text>
<circle cx="250.3" cy="997.7" r="11" fill="none" stroke="#8e24aa" stroke-width="1.9" opacity="0.7"/>
<text x="250.3" y="1001.8" fill="#8e24aa" opacity="0.56">D</text>
<circle cx="268.3" cy="997.7" r="11" fill="none" stroke="#10b020" stroke-width="1.9" opacity="0.64"/>
<text x="268.3" y="1001.8" fill="#10b020" opacity="0.51">F</text>
<circle cx="286.2" cy="997.7" r="11" fill="none" stroke="#8e24aa" stroke-width="1.9" opacity="0.7"/>
<text x="286.2" y="1001.8" fill="#8e24aa" opacity="0.56">D</text>
<circle cx="295.1" cy="997.7" r="11" fill="none" stroke="#10b020" stroke-width="1.9" opacity="0.64"/>
<text x="295.1" y="1001.8" fill="#10b020" opacity="0.51">F</text>
<circle cx="304.1" cy="997.7" r="11" fill="none" stroke="#10b020" stroke-width="1.9" opacity="0.64"/>
<text x="304.1" y="1001.8" fill="#10b020" opacity="0.51">F</text>
<circle cx="322.0" cy="997.7" r="11" fill="none" stroke="#10b020" stroke-width="1.9" opacity="0.64"/>
<text x="322.0" y="1001.8" fill="#10b020" opacity="0.51">F</text>
<circle cx="330.9" cy="997.7" r="11" fill="none" stroke="#8e24aa" stroke-width="1.9" opacity="0.7"/>
<text x="330.9" y="1001.8" fill="#8e24aa" opacity="0.56">D</text>
<circle cx="348.8" cy="997.7" r="11" fill="none" stroke="#10b020" stroke-width="1.9" opacity="0.64"/>
<text x="348.8" y="1001.8" fill="#10b020" opacity="0.51">F</text>
<circle cx="357.8" cy="997.7" r="11" fill="none" stroke="#8e24aa" stroke-width="1.9" opacity="0.7"/>
<text x="357.8" y="1001.8" fill="#8e24aa" opacity="0.56">D</text>
<circle cx="375.7" cy="997.7" r="11" fill="none" stroke="#10b020" stroke-width="1.9" opacity="0.64"/>
<text x="375.7" y="1001.8" fill="#10b020" opacity="0.51">F</text>
<circle cx="402.6" cy="997.7" r="11" fill="none" stroke="#10b020" stroke-width="1.9" opacity="0.64"/>
<text x="402.6" y="1001.8" fill="#10b020" opacity="0.51">F</text>
<circle cx="411.5" cy="997.7" r="11" fill="none" stroke="#10b020" stroke-width="1.9" opacity="0.64"/>
<text x="411.5" y="1001.8" fill="#10b020" opacity="0.51">F</text>
<circle cx="429.4" cy="997.7" r="11" fill="none" stroke="#10b020" stroke-width="1.9" opacity="0.64"/>
<text x="429.4" y="1001.8" fill="#10b020" opacity="0.51">F</text>
<circle cx="447.4" cy="997.7" r="11" fill="none" stroke="#8e24aa" stroke-width="2.3" opacity="0.7"/>
<text x="447.4" y="1001.8" fill="#8e24aa" opacity="0.35">D</text>
<circle cx="447.4" cy="997.7" r="11" fill="none" stroke="#10b020" stroke-width="2.3" opacity="0.64"/>
<text x="447.4" y="1001.8" fill="#10b020" opacity="0.32">F</text>
<circle cx="465.3" cy="997.7" r="11" fill="none" stroke="#f5803a" stroke-width="2.3" opacity="0.6"/>
<text x="465.3" y="1001.8" fill="#f5803a" opacity="0.30">S</text>
<circle cx="483.2" cy="997.7" r="11" fill="none" stroke="#10b020" stroke-width="2.3" opacity="0.64"/>
<text x="483.2" y="1001.8" fill="#10b020" opacity="0.32">F</text>
<circle cx="510.0" cy="997.7" r="11" fill="none" stroke="#10b020" stroke-width="2.3" opacity="0.64"/>
<text x="510.0" y="1001.8" fill="#10b020" opacity="0.32">F</text>
<circle cx="528.0" cy="997.7" r="11" fill="none" stroke="#10b020" stroke-width="2.3" opacity="0.64"/>
<text x="528.0" y="1001.8" fill="#10b020" opacity="0.32">F</text>
<circle cx="554.8" cy="997.7" r="11" fill="none" stroke="#8e24aa" stroke-width="2.3" opacity="0.7"/>
<text x="554.8" y="1001.8" fill="#8e24aa" opacity="0.35">D</text>
<circle cx="572.7" cy="997.7" r="11" fill="none" stroke="#f5803a" stroke-width="2.3" opacity="0.6"/>
<text x="572.7" y="1001.8" fill="#f5803a" opacity="0.30">S</text>
<circle cx="581.7" cy="997.7" r="11" fill="none" stroke="#10b020" stroke-width="2.3" opacity="0.64"/>
<text x="581.7" y="1001.8" fill="#10b020" opacity="0.32">F</text>
<circle cx="599.6" cy="997.7" r="11" fill="none" stroke="#10b020" stroke-width="2.3" opacity="0.64"/>
<text x="599.6" y="1001.8" fill="#10b020" opacity="0.32">F</text>
<circle cx="617.5" cy="997.7" r="11" fill="none" stroke="#10b020" stroke-width="2.3" opacity="0.64"/>
<text x="617.5" y="1001.8" fill="#10b020" opacity="0.32">F</text>
<circle cx="635.4" cy="997.7" r="11" fill="none" stroke="#10b020" stroke-width="2.3" opacity="0.64"/>
<text x="635.4" y="1001.8" fill="#10b020" opacity="0.32">F</text>
<circle cx="653.3" cy="997.7" r="11" fill="none" stroke="#8e24aa" stroke-width="2.3" opacity="0.7"/>
<text x="653.3" y="1001.8" fill="#8e24aa" opacity="0.35">D</text>
<circle cx="680.2" cy="997.7" r="11" fill="none" stroke="#8e24aa" stroke-width="2.3" opacity="0.7"/>
<text x="680.2" y="1001.8" fill="#8e24aa" opacity="0.35">D</text>
<circle cx="689.1" cy="997.7" r="11" fill="none" stroke="#10b020" stroke-width="2.3" opacity="0.64"/>
<text x="689.1" y="1001.8" fill="#10b020" opacity="0.32">F</text>
<circle cx="716.0" cy="997.7" r="11" fill="none" stroke="#8e24aa" stroke-width="2.3" opacity="0.7"/>
<text x="716.0" y="1001.8" fill="#8e24aa" opacity="0.35">D</text>
<circle cx="725.0" cy="997.7" r="11" fill="none" stroke="#10b020" stroke-width="2.3" opacity="0.64"/>
<text x="725.0" y="1001.8" fill="#10b020" opacity="0.32">F</text>
<circle cx="733.9" cy="997.7" r="11" fill="none" stroke="#10b020" stroke-width="2.3" opacity="0.64"/>
<text x="733.9" y="1001.8" fill="#10b020" opacity="0.32">F</text>
<circle cx="751.8" cy="997.7" r="11" fill="none" stroke="#10b020" stroke-width="2.3" opacity="0.64"/>
<text x="751.8" y="1001.8" fill="#10b020" opacity="0.32">F</text>
<circle cx="769.7" cy="997.7" r="11" fill="none" stroke="#8e24aa" stroke-width="2.3" opacity="0.7"/>
<text x="769.7" y="1001.8" fill="#8e24aa" opacity="0.35">D</text>
<circle cx="778.7" cy="997.7" r="11" fill="none" stroke="#10b020" stroke-width="2.3" opacity="0.64"/>
<text x="778.7" y="1001.8" fill="#10b020" opacity="0.32">F</text>
<circle cx="796.6" cy="997.7" r="11" fill="none" stroke="#8e24aa" stroke-width="2.3" opacity="0.7"/>
<text x="796.6" y="1001.8" fill="#8e24aa" opacity="0.35">D</text>
<circle cx="805.6" cy="997.7" r="11" fill="none" stroke="#10b020" stroke-width="2.3" opacity="0.64"/>
<text x="805.6" y="1001.8" fill="#10b020" opacity="0.32">F</text>
<circle cx="823.5" cy="997.7" r="11" fill="none" stroke="#8e24aa" stroke-width="2.3" opacity="0.7"/>
<text x="823.5" y="1001.8" fill="#8e24aa" opacity="0.35">D</text>
<circle cx="832.4" cy="997.7" r="11" fill="none" stroke="#10b020" stroke-width="2.3" opacity="0.64"/>
<text x="832.4" y="1001.8" fill="#10b020" opacity="0.32">F</text>
<circle cx="841.4" cy="997.7" r="11" fill="none" stroke="#10b020" stroke-width="2.3" opacity="0.64"/>
<text x="841.4" y="1001.8" fill="#10b020" opacity="0.32">F</text>
<circle cx="859.3" cy="997.7" r="11" fill="none" stroke="#10b020" stroke-width="2.3" opacity="0.64"/>
<text x="859.3" y="1001.8" fill="#10b020" opacity="0.32">F</text>
<circle cx="877.2" cy="997.7" r="11" fill="none" stroke="#8e24aa" stroke-width="2.3" opacity="0.7"/>
<text x="877.2" y="1001.8" fill="#8e24aa" opacity="0.35">D</text>
<circle cx="886.2" cy="997.7" r="11" fill="none" stroke="#10b020" stroke-width="2.3" opacity="0.64"/>
<text x="886.2" y="1001.8" fill="#10b020" opacity="0.32">F</text>
<circle cx="904.1" cy="997.7" r="11" fill="none" stroke="#8e24aa" stroke-width="2.3" opacity="0.7"/>
<text x="904.1" y="1001.8" fill="#8e24aa" opacity="0.35">D</text>
<circle cx="913.0" cy="997.7" r="11" fill="none" stroke="#10b020" stroke-width="2.3" opacity="0.64"/>
<text x="913.0" y="1001.8" fill="#10b020" opacity="0.32">F</text>
<circle cx="930.9" cy="997.7" r="11" fill="none" stroke="#8e24aa" stroke-width="2.3" opacity="0.7"/>
<text x="930.9" y="1001.8" fill="#8e24aa" opacity="0.35">D</text>
<circle cx="939.9" cy="997.7" r="11" fill="none" stroke="#10b020" stroke-width="2.3" opacity="0.64"/>
<text x="939.9" y="1001.8" fill="#10b020" opacity="0.32">F</text>
<circle cx="948.8" cy="997.7" r="11" fill="none" stroke="#10b020" stroke-width="2.3" opacity="0.64"/>
<text x="948.8" y="1001.8" fill="#10b020" opacity="0.32">F</text>
<circle cx="957.8" cy="997.7" r="11" fill="none" stroke="#10b020" stroke-width="2.3" opacity="0.64"/>
<text x="957.8" y="1001.8" fill="#10b020" opacity="0.32">F</text>
<circle cx="966.7" cy="997.7" r="11" fill="none" stroke="#10b020" stroke-width="2.3" opacity="0.64"/>
<text x="966.7" y="1001.8" fill="#10b020" opacity="0.32">F</text>
<circle cx="984.7" cy="997.7" r="11" fill="none" stroke="#8e24aa" stroke-width="2.3" opacity="0.7"/>
<text x="984.7" y="1001.8" fill="#8e24aa" opacity="0.35">D</text>
<circle cx="993.6" cy="997.7" r="11" fill="none" stroke="#10b020" stroke-width="2.3" opacity="0.64"/>
<text x="993.6" y="1001.8" fill="#10b020" opacity="0.32">F</text>
<circle cx="1011.5" cy="997.7" r="11" fill="none" stroke="#8e24aa" stroke-width="2.3" opacity="0.7"/>
<text x="1011.5" y="1001.8" fill="#8e24aa" opacity="0.35">D</text>
<circle cx="1020.5" cy="997.7" r="11" fill="none" stroke="#10b020" stroke-width="2.3" opacity="0.64"/>
<text x="1020.5" y="1001.8" fill="#10b020" opacity="0.32">F</text>
<circle cx="1047.3" cy="997.7" r="11" fill="none" stroke="#10b020" stroke-width="2.3" opacity="0.64"/>
<text x="1047.3" y="1001.8" fill="#10b020" opacity="0.32">F</text>
<circle cx="1056.3" cy="997.7" r="11" fill="none" stroke="#10b020" stroke-width="2.3" opacity="0.64"/>
<text x="1056.3" y="1001.8" fill="#10b020" opacity="0.32">F</text>
<circle cx="1074.2" cy="997.7" r="11" fill="none" stroke="#10b020" stroke-width="2.3" opacity="0.64"/>
<text x="1074.2" y="1001.8" fill="#10b020" opacity="0.32">F</text>
<circle cx="1092.1" cy="997.7" r="11" fill="none" stroke="#8e24aa" stroke-width="2.3" opacity="0.7"/>
<text x="1092.1" y="1001.8" fill="#8e24aa" opacity="0.35">D</text>
<circle cx="1101.1" cy="997.7" r="11" fill="none" stroke="#10b020" stroke-width="2.3" opacity="0.64"/>
<text x="1101.1" y="1001.8" fill="#10b020" opacity="0.32">F</text>
<circle cx="1119.0" cy="997.7" r="11" fill="none" stroke="#8e24aa" stroke-width="2.3" opacity="0.7"/>
<text x="1119.0" y="1001.8" fill="#8e24aa" opacity="0.35">D</text>
<circle cx="1127.9" cy="997.7" r="11" fill="none" stroke="#10b020" stroke-width="2.3" opacity="0.64"/>
<text x="1127.9" y="1001.8" fill="#10b020" opacity="0.32">F</text>
<circle cx="1154.8" cy="997.7" r="11" fill="none" stroke="#10b020" stroke-width="2.3" opacity="0.64"/>
<text x="1154.8" y="1001.8" fill="#10b020" opacity="0.32">F</text>
<circle cx="1163.8" cy="997.7" r="11" fill="none" stroke="#10b020" stroke-width="2.3" opacity="0.64"/>
<text x="1163.8" y="1001.8" fill="#10b020" opacity="0.32">F</text>
</g></g>
<g font-size="12.2" fill="#131722" transform="translate(1874.3,0) scale(0.94,1)">
<text x="0" y="1002.97">5.00</text>
<text x="0" y="969.64">10.00</text>
<text x="0" y="936.32">15.00</text>
<text x="0" y="903.00">20.00</text>
<text x="0" y="869.67">25.00</text>
<text x="0" y="836.35">30.00</text>
<text x="0" y="803.02">35.00</text>
<text x="0" y="769.70">40.00</text>
<text x="0" y="736.37">45.00</text>
<text x="0" y="703.04">50.00</text>
<text x="0" y="669.72">55.00</text>
<text x="0" y="636.39">60.00</text>
<text x="0" y="603.07">65.00</text>
<text x="0" y="569.75">70.00</text>
<text x="0" y="536.42">75.00</text>
<text x="0" y="503.10">80.00</text>
<text x="0" y="469.77">85.00</text>
<text x="0" y="436.44">90.00</text>
<text x="0" y="403.12">95.00</text>
<text x="0" y="369.80">100.00</text>
<text x="0" y="336.47">105.00</text>
<text x="0" y="303.14">110.00</text>
<text x="0" y="269.82">115.00</text>
<text x="0" y="236.50">120.00</text>
<text x="0" y="203.17">125.00</text>
<text x="0" y="169.84">130.00</text>
<text x="0" y="136.52">135.00</text>
<text x="0" y="103.20">140.00</text>
<text x="0" y="69.87">145.00</text>
</g>
<rect x="1828" y="525" width="35" height="17" rx="2" fill="#ef5350"/>
<rect x="1864" y="525" width="46" height="17" rx="2" fill="#ef5350"/>
<rect x="1864" y="551" width="46" height="17" rx="2" fill="#2196f3"/>
<rect x="1865" y="533" width="4" height="1" fill="#fff"/>
<rect x="1865" y="559" width="4" height="1" fill="#fff"/>
<g font-size="11.6" fill="#fff">
<text x="1834" y="537.8" font-size="10.5" font-weight="bold" textLength="23" lengthAdjust="spacingAndGlyphs">VNM</text>
<text x="1874" y="537.8" font-weight="bold" textLength="29" lengthAdjust="spacingAndGlyphs">74.80</text>
<text x="1874" y="563.8" font-weight="bold" textLength="29" lengthAdjust="spacingAndGlyphs">70.92</text>
</g>
<g font-size="12" fill="#131722" text-anchor="middle" stroke="#131722" stroke-width="0.3">
<text x="79.0" y="1031">2012</text>
<text x="186.5" y="1031">2013</text>
<text x="293.9" y="1031">2014</text>
<text x="401.4" y="1031">2015</text>
<text x="508.8" y="1031">2016</text>
<text x="616.3" y="1031">2017</text>
<text x="723.8" y="1031">2018</text>
<text x="831.2" y="1031">2019</text>
<text x="938.7" y="1031">2020</text>
<text x="1046.1" y="1031">2021</text>
<text x="1153.6" y="1031">2022</text>
<text x="1261.1" y="1031">2023</text>
<text x="1368.5" y="1031">2024</text>
<text x="1476.0" y="1031">2025</text>
<text x="1583.4" y="1031">2026</text>
<text x="1690.9" y="1031">2027</text>
<text x="1798.4" y="1031">2028</text>
</g>
<rect x="65.5" y="69.5" width="31" height="20" rx="3" fill="#fff" stroke="#dfe1e7"/>
<g stroke="#5ea4cc" stroke-width="1.2" fill="none">
<path d="M26.5 13v6.6M26.5 28.6v7M15 24.5h8.2M30.2 24.5h7.8"/>
</g>
<g fill="none" stroke="#131722" stroke-width="1.1" stroke-linecap="round" stroke-linejoin="round">
<line x1="19" y1="67.1" x2="32.8" y2="53"/><circle cx="34.4" cy="51.4" r="2.2" fill="#fff"/><circle cx="17.4" cy="68.7" r="2.2" fill="#fff"/>
<path d="M15 86.3h21.7M15 92.3h19M15 98.3h21.7M17.6 104.4h19.1"/><circle cx="36.4" cy="92.3" r="2.2" fill="#fff"/><circle cx="15.3" cy="104.4" r="2.2" fill="#fff"/>
<path d="M18.6 124.7L18.3 140.6L33.6 140.6Z"/><circle cx="18.6" cy="124.7" r="2.2" fill="#fff"/><circle cx="18.3" cy="140.6" r="2.2" fill="#fff"/><circle cx="33.6" cy="140.6" r="2.2" fill="#fff"/>
<path d="M20.1 161.8v-2.1h12.8v2.1M26.5 159.7v16.7M24 176.4h5"/>
<path d="M17.4 212.5L20.6 195.1L24.4 202.5L32.4 196.1L35.6 209.4L24.4 202.5Z"/>
<circle cx="20.6" cy="195.1" r="2.1" fill="#fff"/>
<circle cx="32.4" cy="196.1" r="2.1" fill="#fff"/>
<circle cx="24.4" cy="202.5" r="2.1" fill="#fff"/>
<circle cx="17.4" cy="212.5" r="2.1" fill="#fff"/>
<circle cx="35.6" cy="209.4" r="2.1" fill="#fff"/>
<path d="M16.4 230.3h16M20.7 250.3h16M26.4 250.3v-16.5M24.4 236l2-2.6l2 2.6"/><circle cx="34.6" cy="230.3" r="2.2" fill="#fff"/><circle cx="18.5" cy="250.3" r="2.2" fill="#fff"/>
<circle cx="26" cy="276" r="7.6"/><path d="M22.3 278.2q3.7 3.6 7.4 0"/>
<circle cx="23.4" cy="273.5" r="1.05" fill="#131722" stroke="none"/><circle cx="28.6" cy="273.5" r="1.05" fill="#131722" stroke="none"/>
<g transform="translate(26.1,325.2) rotate(-45.5)"><rect x="-12.5" y="-3" width="25" height="6.2"/><path d="M-8.5 -3v2.6M-4.5 -3v2.6M-0.5 -3v2.6M3.5 -3v2.6M7.5 -3v2.6"/></g>
<circle cx="24.6" cy="359.7" r="8"/><path d="M30.3 365.5l3.6 3.6M21.4 359.7h6.4M24.6 356.5v6.4"/>
<path d="M18.3 418.3v-10.3a7.6 7.6 0 0 1 15.4 0v10.3h-4.8v-10.3a2.9 2.9 0 0 0 -5.8 0v10.3zM18.3 414.4h4.8M28.9 414.4h4.8"/>
<path d="M15.2 446.2L27.4 434.2L31.7 438.6L19.7 450.6L15.2 450.4ZM16.4 445.2L20.7 449.6M25.7 435.9L30 440.3M18.6 447.4L27.8 438.2"/>
<rect x="27.4" y="449.4" width="8.3" height="6.1" rx="0.9" fill="#fff"/><path d="M29.5 449.4V446.3A2.1 2.1 0 0 1 33.6 445.8"/>
<ellipse cx="31.5" cy="452.6" rx="0.55" ry="0.9" fill="#131722" stroke="none"/>
<rect x="18.2" y="479.8" width="15.2" height="11.3" rx="1.6"/><path d="M22 479.8v-2.6a3.7 3.7 0 0 1 7.4 -0.4"/>
<rect x="25" y="483.8" width="1.7" height="3.2" fill="#131722" stroke="none"/>
<path d="M15.8 514.2q9 -12.4 18 0q-9 12.4 -18 0z"/><circle cx="24.8" cy="514.2" r="3.4"/>
</g>
<path d="M28.8 528.3q1.7 0.5 2.1 -1.5l0.9 -5.2q0.4 -2 2.3 -1.5M29.9 523.3h3.7M34.5 526l2.6 2.6M37.1 526l-2.6 2.6" fill="none" stroke="#fff" stroke-width="3.2" stroke-linecap="round"/>
<path d="M28.8 528.3q1.7 0.5 2.1 -1.5l0.9 -5.2q0.4 -2 2.3 -1.5M29.9 523.3h3.7M34.5 526l2.6 2.6M37.1 526l-2.6 2.6" fill="none" stroke="#131722" stroke-width="1.1" stroke-linecap="round" stroke-linejoin="round"/>
<g fill="none" stroke="#131722" stroke-width="1.1" stroke-linecap="round" stroke-linejoin="round">
<path d="M17.4 561.4h17.2M22.6 561.4v-1.6q0 -1 1 -1h4.8q1 0 1 1v1.6M19.4 561.4v13.6q0 1.8 1.8 1.8h9.6q1.8 0 1.8 -1.8v-13.6M23.4 565v8M29 565v8"/>
<path d="M17.2 1038.6L26.2 1032L35.2 1038.6L26.2 1045.2ZM18.6 1043.2L26.2 1048.7L33.8 1043.2M18.6 1046.5L26.2 1052L33.8 1046.5"/>
<path d="M210.5 9.2v3.3M210.5 25v3.5M208.5 12.5h4v12.5h-4zM218.5 11.7v3.8M218.5 22.5v3.2M216.5 15.5h4v7h-4z" stroke-width="1.15" stroke-linecap="butt" stroke-linejoin="miter"/>
<circle cx="252.5" cy="19.4" r="8.8"/><path d="M248 19.4h9M252.5 14.9v9"/>
<path d="M343.4 25.8q2.8 0.9 3.4 -2.4l1.7 -9.8q0.6 -3.3 3.6 -2.5M345 16.4h5.8M351.4 22.2l4.4 4.4M355.8 22.2l-4.4 4.4" stroke-width="1.35"/>
<path d="M465.2 14.6l-3.9 3.7l3.9 3.7M461.6 18.3h7.2q5 0.2 5 5.2"/>
<path d="M582 17.6l3.9 3.6l3.9 -3.6M661.7 17.6l3.9 3.6l3.9 -3.6"/>
<path d="M71.8 77.6l3 2.8l3 -2.8" stroke-width="1.3"/>
<path d="M300.5 1058.5v-1.5q0 -1.8 1.8 -1.8h8.6q1.8 0 1.8 1.8v8.8q0 1.8 -1.8 1.8h-5.4M300.5 1058.7h12.2M303.6 1053.6v2.8M309.6 1053.6v2.8M296.6 1063.4h7.6M301.6 1060.6l2.8 2.8l-2.8 2.8"/>
<circle cx="1892.4" cy="1027.4" r="5"/><path d="M1892.4 1020v1.6M1892.4 1033.2v1.6M1885 1027.4h1.6M1898.2 1027.4h1.6M1887.2 1022.2l1.1 1.1M1896.5 1031.5l1.1 1.1M1887.2 1032.6l1.1 -1.1M1896.5 1023.3l1.1 -1.1"/>
<path d="M1856 15.6v-4.2h4.2M1856 11.4l4.6 4.6M1870 15.6v-4.2h-4.2M1870 11.4l-4.6 4.6M1856 22.4v4.2h4.2M1856 26.6l4.6 -4.6M1870 22.4v4.2h-4.2M1870 26.6l-4.6 -4.6" stroke-width="1.3"/>
</g>
<path d="M497.6 14.6l3.9 3.7l-3.9 3.7M501.2 18.3h-7.2q-5 0.2 -5 5.2" fill="none" stroke="#c5c8d0" stroke-width="1.1" stroke-linecap="round" stroke-linejoin="round"/>
<g fill="#555" stroke="#555"><circle cx="1897" cy="19" r="2.5"/><circle cx="1907.4" cy="13.8" r="2.5"/><circle cx="1907.4" cy="24.2" r="2.5"/><path d="M1897 19l10.4 -5.2M1897 19l10.4 5.2" stroke-width="1.6" fill="none"/></g>
<circle cx="316" cy="55" r="8.6" fill="#d6efec"/><circle cx="316" cy="55" r="4.1" fill="#089981"/>
<path d="M55.5 996.5h-5q-3 0 -3 3v18q0 3 3 3h5" fill="#fff" stroke="#efe4f2" stroke-width="1"/>
<path d="M51.6 1004.6l-2.2 3.4l2.2 3.4" fill="none" stroke="#c9ccd4" stroke-width="1"/>
</svg>
<div class="t" style="left:65.6px;top:12.29px;font-size:13.6px;color:#131722;font-weight:bold;">VNM</div>
<div class="t" style="left:170.2px;top:12.26px;font-size:13.4px;color:#50535e;font-weight:normal;">M</div>
<div class="t" style="left:269.1px;top:11.95px;font-size:14px;color:#2a2e39;font-weight:normal;">So sánh</div>
<div class="t" style="left:367px;top:11.95px;font-size:14px;color:#2a2e39;font-weight:normal;">Các chỉ báo</div>
<div class="t" style="left:524.7px;top:11.95px;font-size:14px;color:#2a2e39;font-weight:normal;">Biểu đồ</div>
<div class="t" style="left:614.4px;top:11.95px;font-size:14px;color:#2a2e39;font-weight:normal;">Hồ sơ</div>
<div class="t" style="left:65.6px;top:47.06px;font-size:16px;color:#363a45;font-weight:normal;">CTCP Sữa Việt Nam</div>
<div class="t" style="left:225.2px;top:47.06px;font-size:16px;color:#363a45;font-weight:normal;">1M</div>
<div class="t" style="left:258.4px;top:47.06px;font-size:16px;color:#363a45;font-weight:normal;">HSX</div>
<div class="t" style="left:215.4px;top:47.06px;font-size:16px;color:#b2b5be;font-weight:normal;">·</div>
<div class="t" style="left:249.8px;top:47.06px;font-size:16px;color:#b2b5be;font-weight:normal;">·</div>
<div class="t" id="ohlc" style="left:341.6px;top:48.35px;font-size:14px;color:#5d606b;transform:scaleX(0.9286);transform-origin:0 0"><span style="margin-right:7.5px">O<span style="color:#e06b6b">81.00</span></span><span style="margin-right:7.5px">H<span style="color:#e06b6b">82.70</span></span><span style="margin-right:7.5px">L<span style="color:#e06b6b">70.90</span></span><span style="margin-right:7.5px">C<span style="color:#e06b6b">74.80</span></span><span style="color:#e06b6b">−6.10 (−7.54%)</span></div>
<div class="t" style="left:85.4px;top:73.62px;font-size:12.5px;color:#2a2e39;font-weight:normal;">9</div>
<div class="t" style="left:72.4px;top:1054.55px;font-size:14px;color:#2a2e39;font-weight:normal;">5y</div>
<div class="t" style="left:102px;top:1054.55px;font-size:14px;color:#2a2e39;font-weight:normal;">1y</div>
<div class="t" style="left:130px;top:1054.55px;font-size:14px;color:#2a2e39;font-weight:normal;">6p</div>
<div class="t" style="left:160px;top:1054.55px;font-size:14px;color:#2a2e39;font-weight:normal;">3p</div>
<div class="t" style="left:190px;top:1054.55px;font-size:14px;color:#2a2e39;font-weight:normal;">1p</div>
<div class="t" style="left:218.8px;top:1054.55px;font-size:14px;color:#2a2e39;font-weight:normal;">5n</div>
<div class="t" style="left:249px;top:1054.55px;font-size:14px;color:#2a2e39;font-weight:normal;">1n</div>
<div class="t" style="left:1655.8px;top:1054.55px;font-size:14px;color:#2a2e39;font-weight:normal;">12:23:51 (UTC+7)</div>
<div class="t" style="left:1800.9px;top:1054.55px;font-size:14px;color:#2a2e39;font-weight:normal;">%</div>
<div class="t" style="left:1828.3px;top:1054.55px;font-size:14px;color:#2a2e39;font-weight:normal;">log</div>
<div class="t" style="left:1861px;top:1054.55px;font-size:14px;color:#2a2e39;font-weight:normal;">tự động</div>
</body></html>
